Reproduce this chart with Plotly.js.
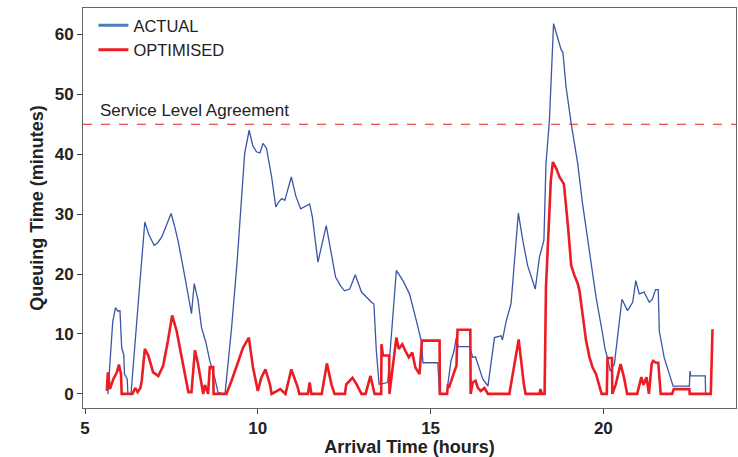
<!DOCTYPE html>
<html>
<head>
<meta charset="utf-8">
<script src="https://cdn.plot.ly/plotly-3.0.1.min.js"></script>
<style>html,body{margin:0;padding:0;background:#fff;}#chart{width:738px;height:457px;}</style>
</head>
<body>
<div id="chart"></div>
<script>
// Arrival time (hours) and queuing time (minutes)
const actualX = [5.66,5.72,5.80,5.88,5.95,6.01,6.06,6.12,6.14,6.22,6.24,6.33,6.36,6.55,6.73,6.85,7.00,7.10,7.22,7.35,7.49,7.60,7.70,7.89,8.08,8.12,8.16,8.27,8.37,8.50,8.61,8.76,8.85,9.05,9.24,9.40,9.53,9.62,9.75,9.85,9.96,10.06,10.15,10.25,10.40,10.52,10.60,10.69,10.78,10.97,11.10,11.24,11.50,11.58,11.74,11.98,12.25,12.40,12.51,12.66,12.82,13.00,13.29,13.36,13.43,13.51,13.76,13.82,14.01,14.20,14.39,14.59,14.73,14.78,15.21,15.26,15.48,15.50,15.59,15.68,15.74,15.80,16.13,16.22,16.30,16.51,16.66,16.85,17.04,17.08,17.19,17.33,17.46,17.54,17.67,17.81,18.03,18.15,18.28,18.34,18.44,18.52,18.56,18.68,18.78,18.83,18.92,19.07,19.26,19.40,19.60,19.79,19.98,20.05,20.12,20.20,20.32,20.54,20.70,20.85,20.94,21.04,21.18,21.33,21.42,21.51,21.59,21.62,21.76,21.91,22.02,22.49,22.51,22.53,22.95,22.96,23.14];
const actualY = [0,5,12,14.4,13.8,13.9,7.7,6.5,3.3,2.5,0,0,2,16,28.7,26.5,24.8,25.2,26.2,28.2,30.1,27.8,25.3,19.5,13.4,16,18.4,15.6,11.1,8.5,5.5,2.5,0.2,0,11,22,32.3,40.2,44.0,41.5,40.4,40.2,41.8,41.0,36.2,31.2,32.0,32.6,32.3,36.2,33,30.9,31.7,29.5,22.0,28.1,19.5,18.0,17.2,17.5,19.9,17.0,15.3,15.0,7.2,1.6,1.9,6.7,20.6,18.9,16.7,12.2,8.9,5.2,5.2,0,0,1.6,5.5,7.2,9.3,7.9,7.9,6.1,6.2,2.5,1.3,9.4,9.7,9.0,12.2,15.1,23.9,30.2,25.6,21.4,17.5,22.8,25.6,38.4,45.7,56.9,61.8,59.4,57.4,57.0,51.3,45.1,38.4,31.7,23.4,16.1,10.0,7.5,6.0,3.8,5.0,15.8,13.9,15.3,18.9,16.7,17.0,15.3,15.8,17.4,17.4,10.5,6.1,3.3,1.3,1.3,3.8,3.0,3.0,0,0];

const optX = [5.63,5.66,5.72,5.82,5.92,5.98,6.04,6.06,6.37,6.45,6.52,6.60,6.64,6.73,6.83,6.97,7.12,7.26,7.40,7.52,7.65,7.80,7.99,8.08,8.18,8.27,8.37,8.42,8.47,8.56,8.61,8.71,8.72,9.09,9.24,9.43,9.57,9.74,9.86,10.00,10.10,10.22,10.35,10.40,10.65,10.80,10.97,11.16,11.20,11.45,11.50,11.55,11.85,12.00,12.13,12.22,12.52,12.56,12.74,12.86,13.00,13.12,13.26,13.38,13.57,13.58,13.62,13.80,13.81,13.95,14.01,14.08,14.18,14.27,14.37,14.47,14.56,14.68,14.75,15.26,15.27,15.48,15.50,15.53,15.59,15.68,15.75,15.78,16.15,16.16,16.22,16.30,16.37,16.45,16.56,16.66,17.28,17.55,17.70,17.75,18.15,18.18,18.22,18.30,18.34,18.42,18.48,18.54,18.64,18.73,18.83,18.86,18.98,19.07,19.17,19.26,19.31,19.40,19.50,19.60,19.69,19.79,19.88,19.95,20.10,20.12,20.25,20.26,20.36,20.50,20.60,20.69,20.98,21.10,21.16,21.25,21.32,21.40,21.44,21.53,21.59,21.66,21.99,22.04,22.49,22.50,23.11,23.16];
const optY = [0.5,3.6,0.8,2.5,3.6,4.9,3.3,0,0,1.0,0.3,1.0,2.2,7.5,6.4,3.6,3.0,4.7,8.9,13.1,10.5,6.1,0.3,0.3,7.3,5.0,1.6,0,1.5,0,4.5,4.5,0,0,2.2,5.5,7.7,9.4,4.4,0.5,2.7,4.1,1.6,0,0.8,0,4.1,1.0,0,0,1.9,0,0,5.1,1.6,0,0,1.6,2.7,1.6,0,0,3.0,0,0,8.3,6.4,6.4,0,6.6,9.4,7.5,8.3,7.2,6.1,6.9,4.4,3.3,8.9,8.9,0,0,1.6,1.0,2.2,3.6,4.7,10.7,10.7,0,1.9,2.2,1.0,0.5,1.0,0,0,9.1,1.6,0,0,0.8,0,0,17.8,29.0,35.6,38.7,37.6,36.2,35.1,35.0,27.8,21.4,19.7,18.4,17.2,13.3,8.9,6.1,4.4,3.3,1.3,0,0,6.0,6.0,0,1.6,5.0,2.7,0,0,2.8,1.5,2.8,0,5.0,5.5,5.2,5.2,0,0,0.8,0.8,0,0,10.8];

const seriesNames = ['ACTUAL', 'OPTIMISED'];
const slaValue = 45;
const slaLabel = 'Service Level Agreement';
const xTicks = [5, 10, 15, 20];
const yTicks = [0, 10, 20, 30, 40, 50, 60];

const blue = '#3a56a6', red = '#ec1c24';
const fontFam = '"Liberation Sans", Arial, sans-serif';

const traces = [
  {x: actualX, y: actualY, mode: 'lines', line: {color: blue, width: 1.3}, showlegend: false, hoverinfo: 'skip'},
  {x: optX, y: optY, mode: 'lines', line: {color: red, width: 2.6}, showlegend: false, hoverinfo: 'skip'},
  {x: [null], y: [null], mode: 'lines', name: seriesNames[0], line: {color: '#4a7ebb', width: 3}},
  {x: [null], y: [null], mode: 'lines', name: seriesNames[1], line: {color: red, width: 3}}
];

const axisCommon = {
  showline: true, mirror: true, linecolor: '#666', linewidth: 1,
  ticks: 'outside', ticklen: 5, tickcolor: '#444', tickwidth: 1,
  showgrid: false, zeroline: false,
  tickfont: {family: fontFam, size: 17, color: '#222', weight: 'bold'}
};

const layout = {
  width: 738, height: 457,
  margin: {l: 83, r: 2, t: 8, b: 49},
  paper_bgcolor: '#fff', plot_bgcolor: '#fff',
  font: {family: fontFam, color: '#222'},
  xaxis: Object.assign({}, axisCommon, {
    range: [4.94, 23.84], tickvals: xTicks,
    title: {text: 'Arrival Time (hours)', font: {family: fontFam, size: 18, color: '#222', weight: 'bold'}, standoff: 4}
  }),
  yaxis: Object.assign({}, axisCommon, {
    range: [-2.35, 64.4], tickvals: yTicks,
    title: {text: 'Queuing Time (minutes)', font: {family: fontFam, size: 18, color: '#222', weight: 'bold'}, standoff: 6}
  }),
  legend: {x: 0.016, y: 1.0, xanchor: 'left', yanchor: 'top', bgcolor: 'rgba(0,0,0,0)',
           font: {family: fontFam, size: 16.5, color: '#222'}, tracegroupgap: 0, itemwidth: 30},
  shapes: [{type: 'line', xref: 'paper', x0: 0, x1: 1, yref: 'y', y0: slaValue, y1: slaValue,
            line: {color: red, width: 1.2, dash: 'dash'}}],
  annotations: [{xref: 'x', yref: 'y', x: 5.38, y: slaValue, xanchor: 'left', yanchor: 'bottom', yshift: 2,
                 text: slaLabel, showarrow: false, font: {family: fontFam, size: 17, color: '#222'}}]
};

Plotly.newPlot('chart', traces, layout, {displayModeBar: false, staticPlot: true});
</script>
</body>
</html>
